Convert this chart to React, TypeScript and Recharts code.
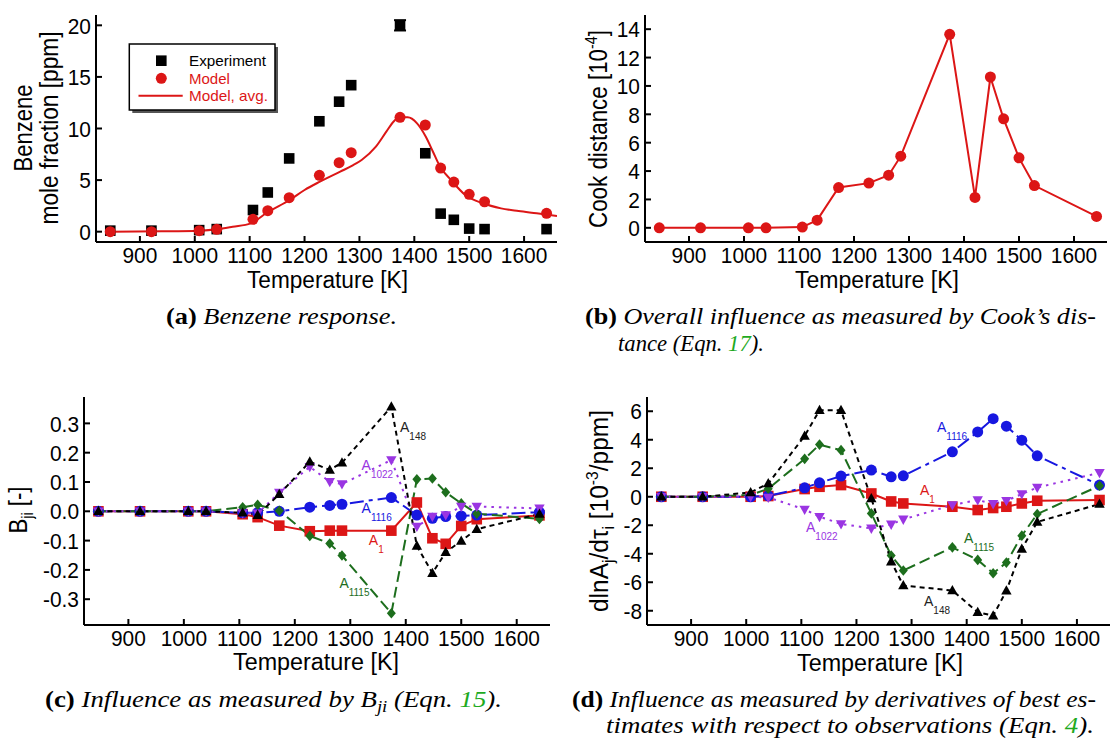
import React from 'react'
import { ComposedChart, ErrorBar, Line, Scatter, XAxis, YAxis } from 'recharts'

// measurement temperatures [K]
const temps = [846, 921, 1008, 1040, 1106, 1133, 1172, 1227, 1263, 1285, 1374, 1420, 1448, 1472, 1500, 1528, 1641]

// (a) benzene response [ppm]
const experiment = [0.1, 0.1, 0.15, 0.25, 2.1, 3.8, 7.1, 10.7, 12.6, 14.2, 20.0, 7.6, 1.75, 1.15, 0.3, 0.25, 0.25]
const experimentErr = [0, 0, 0, 0, 0, 0, 0, 0, 0, 0, 0.5, 0, 0, 0, 0, 0, 0]
const model = [0, 0, 0.1, 0.23, 1.2, 2.04, 3.3, 5.46, 6.69, 7.66, 11.08, 10.34, 6.17, 4.81, 3.62, 2.9, 1.78]
const avgTemps = [846, 940, 1011, 1040, 1069, 1102, 1134, 1173, 1200, 1228, 1265, 1287, 1304, 1330, 1349, 1362, 1374, 1388, 1405, 1421, 1434, 1447, 1467, 1493, 1525, 1558, 1590, 1623, 1660]
const avgValues = [0, 0.03, 0.1, 0.23, 0.48, 0.81, 1.94, 3.07, 4.04, 4.85, 5.82, 6.4, 6.95, 8.24, 9.69, 10.66, 11.08, 11.08, 10.5, 9.2, 7.75, 6.3, 5.0, 3.55, 2.75, 2.26, 2.0, 1.78, 1.52]

// (b) Cook distance [1e-4]
const cook = [0, 0, 0, 0, 0.05, 0.54, 2.84, 3.15, 3.71, 5.05, 13.64, 2.14, 10.63, 7.68, 4.93, 2.98, 0.8]

// (c) B_ji
const bA1 = [0, 0, 0, 0, -0.01, -0.02, -0.049, -0.068, -0.066, -0.066, -0.066, 0.03, -0.092, -0.111, -0.05, -0.027, -0.014]
const bA1116 = [0, 0, 0, 0, -0.005, -0.005, 0, 0.014, 0.02, 0.024, 0.047, -0.013, -0.024, -0.018, -0.016, -0.013, -0.003]
const bA148 = [0, 0, 0, 0, -0.005, -0.013, 0.058, 0.169, 0.141, 0.166, 0.357, -0.118, -0.211, -0.14, -0.101, -0.061, -0.009]
const bA1115 = [0, 0, 0, 0, 0.014, 0.022, 0.002, -0.084, -0.11, -0.151, -0.348, 0.109, 0.112, 0.065, 0.027, -0.008, -0.026]
const bA1022 = [0, 0, 0, 0, -0.007, -0.007, 0.064, 0.152, 0.101, 0.093, 0.175, -0.052, -0.018, -0.013, 0.016, 0.016, 0.01]

// (d) dlnA_j/dtau_i [1e-3/ppm]
const dA1 = [0, 0, 0, 0.05, 0.54, 0.7, 0.82, 0.23, -0.33, -0.47, -0.7, -0.93, -0.79, -0.7, -0.47, -0.28, -0.23]
const dA1116 = [0, 0, 0, 0.07, 0.63, 0.98, 1.45, 1.87, 1.4, 1.47, 3.15, 4.55, 5.48, 4.95, 3.97, 2.87, 0.82]
const dA148 = [0, 0, 0.3, 0.93, 4.27, 6.07, 6.07, -0.12, -4.55, -6.23, -6.58, -8.1, -8.35, -6.6, -3.66, -1.77, -0.51]
const dA1115 = [0, 0, 0.12, 0.56, 2.66, 3.66, 3.27, -1.17, -4.13, -5.18, -3.55, -4.43, -5.37, -4.62, -2.73, -1.21, 0.77]
const dA1022 = [0, 0, 0, -0.05, -0.89, -1.4, -1.91, -2.22, -1.94, -1.59, -0.58, -0.23, -0.5, -0.28, 0.19, 0.65, 1.68]

const xTicks = [900, 1000, 1100, 1200, 1300, 1400, 1500, 1600]
const ticksA = [0, 5, 10, 15, 20]
const ticksB = [0, 2, 4, 6, 8, 10, 12, 14]
const ticksC = [-0.3, -0.2, -0.1, 0, 0.1, 0.2, 0.3]
const ticksD = [-8, -6, -4, -2, 0, 2, 4, 6]

const rowsA = temps.map((T, i) => ({ T, exp: experiment[i], err: experimentErr[i], model: model[i] }))
const rowsAvg = avgTemps.map((T, i) => ({ T, avg: avgValues[i] }))
const rowsB = temps.map((T, i) => ({ T, cook: cook[i] }))
const rowsC = temps.map((T, i) => ({ T, a1: bA1[i], a1116: bA1116[i], a148: bA148[i], a1115: bA1115[i], a1022: bA1022[i] }))
const rowsD = temps.map((T, i) => ({ T, a1: dA1[i], a1116: dA1116[i], a148: dA148[i], a1115: dA1115[i], a1022: dA1022[i] }))

const SANS = 'Liberation Sans, Arimo, Arial, Helvetica, sans-serif'
const SERIF = 'Liberation Serif, Tinos, Times New Roman, serif'
const RED = '#dc1616'
const BLUE = '#1717e0'
const GREEN = '#1d6e1d'
const PURPLE = '#9a35e2'
const BLACK = '#000'
const GREENREF = '#1faa1f'

const BottomTick = (p: any) => (
  <g>
    <line x1={p.x} y1={p.y} x2={p.x} y2={p.y - 6} stroke="#000" strokeWidth={2} />
    <text transform={`translate(${p.x},${p.y + 21})  scale(0.95,1)`} textAnchor="middle" fontSize={22} fontFamily={SANS} fill="#000">
      {p.payload.value}
    </text>
  </g>
)
const TopTick = (p: any) => <line x1={p.x} y1={p.y} x2={p.x} y2={p.y + 6} stroke="#000" strokeWidth={2} />
const RightTick = (p: any) => <line x1={p.x} y1={p.y} x2={p.x - 6} y2={p.y} stroke="#000" strokeWidth={2} />
const leftTick = (fmt: (v: number) => string) => (p: any) => (
  <g>
    <line x1={p.x} y1={p.y} x2={p.x + 6} y2={p.y} stroke="#000" strokeWidth={2} />
    <text transform={`translate(${p.x - 5},${p.y + 8.2}) scale(0.95,1)`} textAnchor="end" fontSize={22} fontFamily={SANS} fill="#000">
      {fmt(p.payload.value)}
    </text>
  </g>
)

const axisLine = { stroke: '#000', strokeWidth: 2 }

function frame(yTicks: number[], yDomain: [number, number], yWidth: number, xHeight: number, fmt: (v: number) => string) {
  return [
    <XAxis key="xb" xAxisId="b" dataKey="T" type="number" domain={[820, 1660]} ticks={xTicks} interval={0}
      allowDataOverflow tickSize={0} tickMargin={0} tickLine={false} axisLine={axisLine} tick={BottomTick} height={xHeight} />,
    <XAxis key="xt" xAxisId="t" orientation="top" dataKey="T" type="number" domain={[820, 1660]} ticks={xTicks} interval={0}
      allowDataOverflow tickSize={0} tickMargin={0} tickLine={false} axisLine={axisLine} tick={TopTick} height={0} />,
    <YAxis key="yl" yAxisId="l" type="number" domain={yDomain} ticks={yTicks} interval={0}
      allowDataOverflow tickSize={0} tickMargin={0} tickLine={false} axisLine={axisLine} tick={leftTick(fmt)} width={yWidth} />,
    <YAxis key="yr" yAxisId="r" orientation="right" type="number" domain={yDomain} ticks={yTicks} interval={0}
      allowDataOverflow tickSize={0} tickMargin={0} tickLine={false} axisLine={axisLine} tick={RightTick} width={0} />,
  ]
}

const marker = (kind: string, color: string) => (p: any) => {
  const { cx, cy } = p
  const k = `m-${p.index}`
  if (cx == null || cy == null) return <g key={k} />
  if (kind === 'square') return <rect key={k} x={cx - 5.3} y={cy - 5.3} width={10.6} height={10.6} fill={color} />
  if (kind === 'circle') return <circle key={k} cx={cx} cy={cy} r={5.5} fill={color} />
  if (kind === 'up') return <polygon key={k} points={`${cx},${cy - 5.5} ${cx + 5.2},${cy + 3.8} ${cx - 5.2},${cy + 3.8}`} fill={color} />
  if (kind === 'down') return <polygon key={k} points={`${cx},${cy + 5.5} ${cx + 5.2},${cy - 3.8} ${cx - 5.2},${cy - 3.8}`} fill={color} />
  return <polygon key={k} points={`${cx},${cy - 5.3} ${cx + 4.5},${cy} ${cx},${cy + 5.3} ${cx - 4.5},${cy}`} fill={color} />
}

const seriesDefs = [
  { key: 'a1', color: RED, kind: 'square', dash: undefined },
  { key: 'a1116', color: BLUE, kind: 'circle', dash: '14 5 4 5' },
  { key: 'a1115', color: GREEN, kind: 'diamond', dash: '11 5' },
  { key: 'a1022', color: PURPLE, kind: 'down', dash: '2.5 5' },
  { key: 'a148', color: BLACK, kind: 'up', dash: '5 4' },
]

const influenceLines = () =>
  seriesDefs.map((s) => (
    <Line key={s.key} xAxisId="b" yAxisId="l" type="linear" dataKey={s.key} stroke={s.color} strokeWidth={2}
      strokeDasharray={s.dash} dot={marker(s.kind, s.color)} activeDot={false} isAnimationActive={false} />
  ))

// curve annotations
const labelsC = [
  { x: 400, y: 432, sub: '148', color: '#222' },
  { x: 361.6, y: 470, sub: '1022', color: PURPLE },
  { x: 361.6, y: 513, sub: '1116', color: BLUE },
  { x: 368.8, y: 545, sub: '1', color: RED },
  { x: 339.4, y: 588, sub: '1115', color: GREEN },
]
const labelsD = [
  { x: 937, y: 432, sub: '1116', color: BLUE },
  { x: 920, y: 495, sub: '1', color: RED },
  { x: 806, y: 532, sub: '1022', color: PURPLE },
  { x: 964, y: 543, sub: '1115', color: GREEN },
  { x: 924, y: 606, sub: '148', color: '#222' },
]

const FitText = (p: { x: number; y: number; len: number; size: number; rot?: boolean; fill?: string; family?: string; children: any }) => (
  <text
    x={p.rot ? -p.len / 2 : p.x}
    y={p.rot ? 0 : p.y}
    transform={p.rot ? `translate(${p.x},${p.y}) rotate(-90)` : undefined}
    textLength={p.len}
    lengthAdjust="spacingAndGlyphs"
    fontSize={p.size}
    fontFamily={p.family || SANS}
    fill={p.fill || '#000'}
  >
    {p.children}
  </text>
)

const ALabel = ({ x, y, sub, color }: { x: number; y: number; sub: string; color: string }) => (
  <text x={x} y={y} fontSize={14} fontFamily={SANS} fill={color}>
    A<tspan dy={7.5} fontSize={10}>{sub}</tspan>
  </text>
)

export default function App() {
  const int = (v: number) => String(v)
  const one = (v: number) => v.toFixed(1)
  return (
    <div style={{ position: 'absolute', left: 0, top: 0, width: 1112, height: 742, background: '#fff', overflow: 'hidden' }}>
      <div style={{ position: 'absolute', left: 0, top: 0 }}>
        <ComposedChart width={570} height={300} data={rowsA} margin={{ top: 15, right: 13, bottom: 0, left: 0 }}>
          {frame(ticksA, [-1, 21], 96, 58, int)}
          <Line xAxisId="b" yAxisId="l" data={rowsAvg} type="monotone" dataKey="avg" stroke={RED} strokeWidth={2}
            dot={false} activeDot={false} isAnimationActive={false} />
          <Scatter xAxisId="b" yAxisId="l" dataKey="exp" fill={BLACK} shape={marker('square', BLACK)} isAnimationActive={false}>
            <ErrorBar dataKey="err" direction="y" width={6} stroke={BLACK} strokeWidth={2} />
          </Scatter>
          <Scatter xAxisId="b" yAxisId="l" dataKey="model" fill={RED} shape={marker('circle', RED)} isAnimationActive={false} />
        </ComposedChart>
      </div>

      <div style={{ position: 'absolute', left: 560, top: 0 }}>
        <ComposedChart width={552} height={300} data={rowsB} margin={{ top: 15, right: 5, bottom: 0, left: 0 }}>
          {frame(ticksB, [-1, 15], 85, 58, int)}
          <Line xAxisId="b" yAxisId="l" type="linear" dataKey="cook" stroke={RED} strokeWidth={2}
            dot={marker('circle', RED)} activeDot={false} isAnimationActive={false} />
        </ComposedChart>
      </div>

      <div style={{ position: 'absolute', left: 0, top: 380 }}>
        <ComposedChart width={570} height={300} data={rowsC} margin={{ top: 17, right: 20, bottom: 0, left: 0 }}>
          {frame(ticksC, [-0.388, 0.39], 84, 55, one)}
          {influenceLines()}
        </ComposedChart>
      </div>

      <div style={{ position: 'absolute', left: 560, top: 380 }}>
        <ComposedChart width={552} height={300} data={rowsD} margin={{ top: 17, right: 2, bottom: 0, left: 0 }}>
          {frame(ticksD, [-9, 7], 87, 55, int)}
          {influenceLines()}
        </ComposedChart>
      </div>

      <svg width={1112} height={742} style={{ position: 'absolute', left: 0, top: 0, pointerEvents: 'none' }}>
        {/* axis titles */}
        <FitText x={247} y={288} len={161} size={23}>Temperature [K]</FitText>
        <FitText x={795} y={288} len={164} size={23}>Temperature [K]</FitText>
        <FitText x={233} y={670} len={166} size={23}>Temperature [K]</FitText>
        <FitText x={797} y={671} len={166} size={23}>Temperature [K]</FitText>

        <FitText x={32} y={128} len={87} size={25} rot>Benzene</FitText>
        <FitText x={58} y={128} len={193} size={25} rot>mole fraction [ppm]</FitText>
        <FitText x={607} y={129} len={198} size={25} rot>
          Cook distance [10<tspan dy={-10} fontSize={16}>-4</tspan><tspan dy={10}>]</tspan>
        </FitText>
        <FitText x={27} y={510} len={47} size={25} rot>
          B<tspan dy={6} fontSize={16}>ji</tspan><tspan dy={-6}> [-]</tspan>
        </FitText>
        <FitText x={608} y={511} len={202} size={25} rot>
          dlnA<tspan dy={6} fontSize={16}>j</tspan><tspan dy={-6}>/dτ</tspan><tspan dy={6} fontSize={16}>i</tspan>
          <tspan dy={-6}> [10</tspan><tspan dy={-10} fontSize={16}>-3</tspan><tspan dy={10}>/ppm]</tspan>
        </FitText>

        {/* legend of (a) */}
        <rect x={132.3} y={47} width={145.7} height={66} fill="#555" />
        <rect x={129.3} y={44} width={145.7} height={66} fill="#fff" stroke="#000" strokeWidth={1.5} />
        <rect x={156} y={55.4} width={10.6} height={10.6} fill={BLACK} />
        <text x={189} y={66} fontSize={15} fontFamily={SANS} fill="#000" textLength={77} lengthAdjust="spacingAndGlyphs">Experiment</text>
        <circle cx={161.3} cy={78.3} r={5.5} fill={RED} />
        <text x={189} y={84} fontSize={15} fontFamily={SANS} fill={RED}>Model</text>
        <line x1={138.5} y1={95.7} x2={182.7} y2={95.7} stroke={RED} strokeWidth={2} />
        <text x={189} y={100.7} fontSize={15} fontFamily={SANS} fill={RED} textLength={79} lengthAdjust="spacingAndGlyphs">Model, avg.</text>

        {/* curve labels */}
        {labelsC.map((l) => <ALabel key={'c' + l.sub} {...l} />)}
        {labelsD.map((l) => <ALabel key={'d' + l.sub} {...l} />)}

        {/* captions */}
        <FitText x={166} y={324} len={231} size={23} family={SERIF}>
          <tspan fontWeight="bold">(a)</tspan><tspan fontStyle="italic"> Benzene response.</tspan>
        </FitText>
        <FitText x={585} y={324} len={511} size={23} family={SERIF}>
          <tspan fontWeight="bold">(b)</tspan><tspan fontStyle="italic"> Overall influence as measured by Cook’s dis-</tspan>
        </FitText>
        <FitText x={618} y={351} len={146} size={23} family={SERIF}>
          <tspan fontStyle="italic">tance (Eqn. </tspan><tspan fontStyle="italic" fill={GREENREF}>17</tspan><tspan fontStyle="italic">).</tspan>
        </FitText>
        <FitText x={45} y={707} len={457} size={23} family={SERIF}>
          <tspan fontWeight="bold">(c)</tspan><tspan fontStyle="italic"> Influence as measured by B</tspan>
          <tspan fontStyle="italic" fontSize={16} dy={5}>ji</tspan>
          <tspan fontStyle="italic" dy={-5}> (Eqn. </tspan><tspan fontStyle="italic" fill={GREENREF}>15</tspan><tspan fontStyle="italic">).</tspan>
        </FitText>
        <FitText x={572} y={707} len={524} size={23} family={SERIF}>
          <tspan fontWeight="bold">(d)</tspan><tspan fontStyle="italic"> Influence as measured by derivatives of best es-</tspan>
        </FitText>
        <FitText x={606} y={733} len={488} size={23} family={SERIF}>
          <tspan fontStyle="italic">timates with respect to observations (Eqn. </tspan><tspan fontStyle="italic" fill={GREENREF}>4</tspan><tspan fontStyle="italic">).</tspan>
        </FitText>
      </svg>
    </div>
  )
}
